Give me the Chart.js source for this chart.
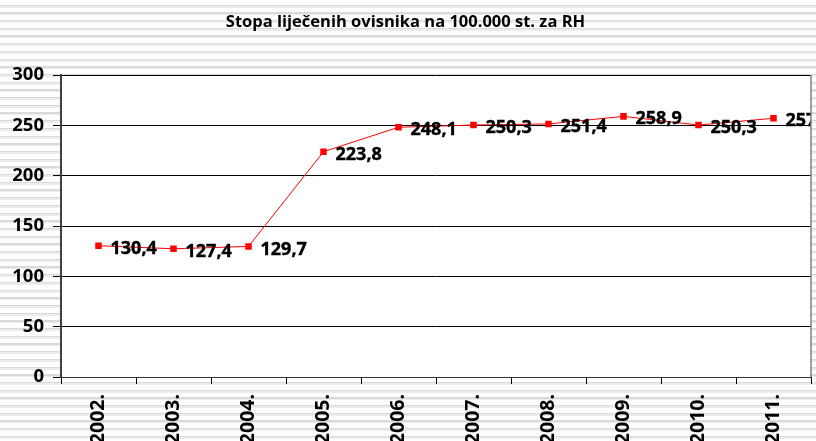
<!DOCTYPE html>
<html>
<head>
<meta charset="utf-8">
<script src="https://cdn.jsdelivr.net/npm/chart.js@4"></script>
<style>
html, body { margin:0; padding:0; }
body {
  width:816px; height:441px; overflow:hidden;
  background: repeating-linear-gradient(to bottom, #ffffff 0px, #ffffff 4.7px, #dadada 4.7px, #dadada 6px, #ececec 6px, #ececec 7.7px);
}
#wrap { position:absolute; left:0; top:0; width:816px; height:441px; }
</style>
</head>
<body>
<div id="wrap"><canvas id="c" width="816" height="441"></canvas></div>
<script>
const TITLE = 'Stopa liječenih ovisnika na 100.000 st. za RH';
const categories = ['2002.', '2003.', '2004.', '2005.', '2006.', '2007.', '2008.', '2009.', '2010.', '2011.'];
const values = [130.4, 127.4, 129.7, 223.8, 248.1, 250.3, 251.4, 258.9, 250.3, 257.0];
const yTicks = [0, 50, 100, 150, 200, 250, 300];

const FONT = '"Open Sans", "Liberation Sans", sans-serif';

const plotBg = {
  id: 'plotBg',
  beforeDraw(chart) {
    const {ctx, chartArea: a} = chart;
    ctx.save();
    ctx.fillStyle = '#ffffff';
    ctx.fillRect(a.left, a.top, a.right - a.left, a.bottom - a.top);
    ctx.restore();
  },
  afterDraw(chart) {
    const {ctx, chartArea: a} = chart;
    ctx.save();
    ctx.strokeStyle = '#808080';
    ctx.lineWidth = 1.5;
    ctx.beginPath();
    ctx.moveTo(a.right, a.top);
    ctx.lineTo(a.right, a.bottom);
    ctx.stroke();
    ctx.restore();
  }
};

const dataLabels = {
  id: 'dataLabels',
  afterDatasetsDraw(chart) {
    const {ctx, chartArea: a} = chart;
    const meta = chart.getDatasetMeta(0);
    ctx.save();
    ctx.beginPath();
    ctx.rect(a.left, a.top, a.right - a.left, a.bottom - a.top);
    ctx.clip();
    ctx.font = 'bold 18px ' + FONT;
    ctx.fillStyle = '#000';
    ctx.strokeStyle = '#000';
    ctx.lineWidth = 0.4;
    ctx.textAlign = 'left';
    ctx.textBaseline = 'middle';
    meta.data.forEach((pt, i) => {
      const txt = values[i].toFixed(1).replace('.', ',');
      ctx.fillText(txt, pt.x + 12, pt.y + 3);
      ctx.strokeText(txt, pt.x + 12, pt.y + 3);
    });
    ctx.restore();
  }
};

new Chart(document.getElementById('c'), {
  type: 'line',
  data: {
    labels: categories,
    datasets: [{
      data: values,
      borderColor: '#ff0000',
      backgroundColor: '#ff0000',
      borderWidth: 1,
      pointStyle: 'rect',
      pointRadius: 4.6,
      pointHoverRadius: 4.6,
      pointBorderWidth: 0,
      tension: 0,
      fill: false
    }]
  },
  options: {
    responsive: false,
    animation: false,
    events: [],
    layout: { padding: { left: 0, right: 5, top: 0, bottom: 0 } },
    plugins: {
      legend: { display: false },
      tooltip: { enabled: false },
      title: {
        display: true,
        text: TITLE,
        color: '#000',
        font: { family: FONT, size: 16.5, weight: 'bold', lineHeight: 1.2 },
        padding: { top: 12, bottom: 43.2 }
      }
    },
    scales: {
      x: {
        offset: true,
        grid: { display: true, drawOnChartArea: false, drawTicks: true, offset: true, tickLength: 7, color: '#000' },
        border: { display: true, color: '#333', width: 1 },
        ticks: {
          color: '#000',
          font: { family: FONT, size: 19.5, weight: 'bold' },
          minRotation: 90, maxRotation: 90,
          padding: 10,
          autoSkip: false
        },
        afterFit(scale) { scale.height = 64; }
      },
      y: {
        min: 0, max: 300,
        afterBuildTicks(scale) { scale.ticks = yTicks.map(v => ({ value: v })); },
        grid: { color: '#000', lineWidth: 1, tickLength: 8, drawTicks: true },
        border: { display: true, color: '#404040', width: 2 },
        ticks: {
          color: '#000',
          font: { family: FONT, size: 18.5, weight: 'bold' },
          padding: 9
        },
        afterFit(scale) { scale.width = 61; }
      }
    }
  },
  plugins: [plotBg, dataLabels]
});
</script>
</body>
</html>
